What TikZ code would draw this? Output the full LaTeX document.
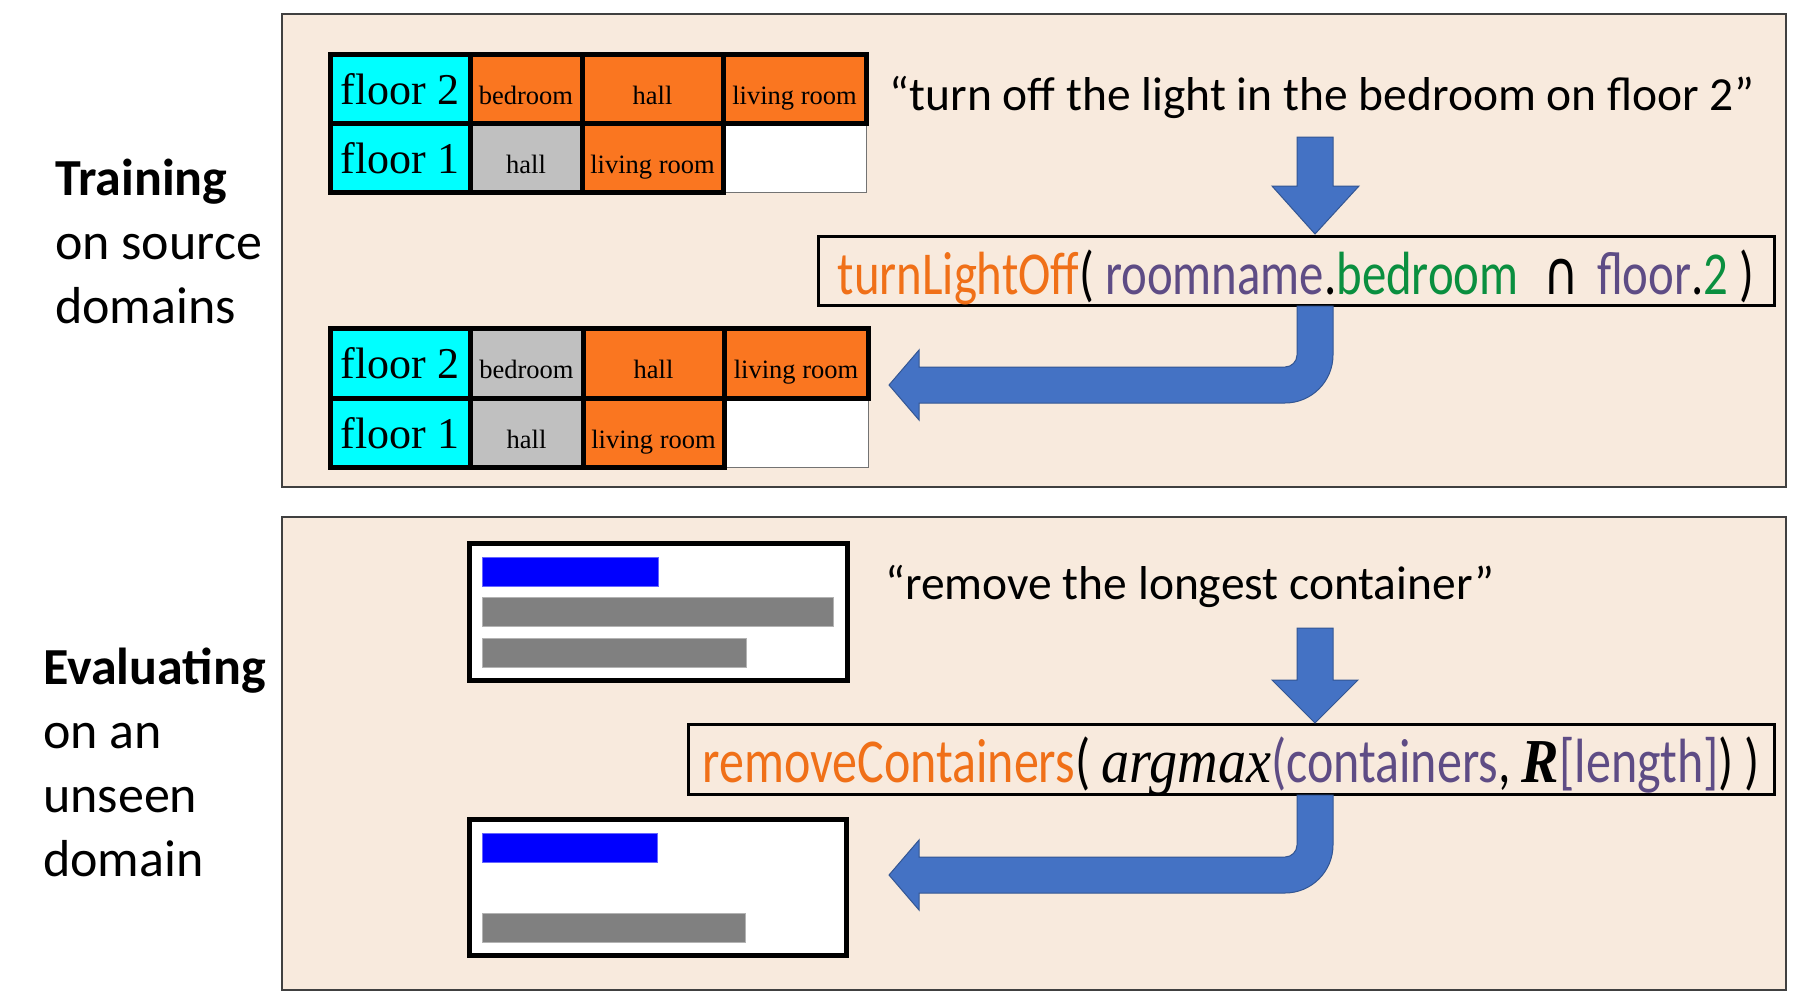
\documentclass[tikz,border=0pt]{standalone}
\usepackage{fontspec}
\setmainfont{Carlito}
\newfontfamily\tnr{Liberation Serif}
\newfontfamily\formfont[FakeStretch=0.8]{Carlito}
\newfontfamily\capfont[FakeStretch=0.8]{DejaVu Sans}
\newfontfamily\itfont[FakeStretch=0.9]{Liberation Serif}
\definecolor{bgc}{HTML}{F8EADD}
\definecolor{cyanc}{HTML}{00FFFF}
\definecolor{orc}{HTML}{FA7620}
\definecolor{grc}{HTML}{C0C0C0}
\definecolor{torange}{HTML}{F07018}
\definecolor{tpurple}{HTML}{5E4C85}
\definecolor{tgreen}{HTML}{0A8F3F}
\definecolor{arrblue}{HTML}{4472C4}
\definecolor{barblue}{HTML}{0000FF}
\definecolor{bargray}{HTML}{808080}
\begin{document}
\begin{tikzpicture}[x=1pt,y=-1pt,
  panel/.style={draw=black!75,line width=1.5pt,fill=bgc},
  cell/.style={draw=black,line width=5pt,inner sep=0pt,text height=31pt,text depth=0pt,
     font=\tnr\fontsize{26.5}{30}\selectfont},
  bigcell/.style={cell,fill=cyanc,font=\tnr\fontsize{44}{48}\selectfont},
  wcell/.style={draw=black!55,line width=1pt,fill=white,inner sep=0pt},
  cbox/.style={draw=black,line width=5pt,fill=white,inner sep=0pt},
  bluebar/.style={fill=barblue,draw=barblue!60!white,line width=1pt},
  graybar/.style={fill=bargray,draw=bargray!60!white,line width=1pt},
  fbox/.style={draw=black,line width=3pt,inner sep=0pt,text height=47pt,text depth=0pt,
     font=\formfont\fontsize{61}{66}\selectfont},
  quote/.style={inner sep=0pt,font=\fontsize{47.5}{56}\selectfont},
  side/.style={inner sep=0pt,anchor=base west,font=\fontsize{52}{60}\selectfont},
  blockarrow/.style={fill=arrblue,draw=arrblue!75!black,line width=1pt}
]
\useasboundingbox (0,0) rectangle (1800,1005);
% panels
\draw[panel] (282,14) rectangle (1786,487);
\draw[panel] (282,517) rectangle (1786,990);

% side labels
\node[side,font=\fontsize{52}{60}\selectfont\bfseries] (ltr) at (55,195) {Training};
\node[side] (lon) at (55,259) {on source};
\node[side] (ldo) at (55,323) {domains};
\node[side,font=\fontsize{52}{60}\selectfont\bfseries] (lev) at (43,684) {Evaluating};
\node[side] (lan) at (43,748) {on an};
\node[side] (lun) at (43,812) {unseen};
\node[side] (ldm) at (43,876) {domain};

% table 1
\node[wcell,minimum width=143pt,minimum height=69pt] (ta24) at (794.5,157.5) {};
\node[bigcell,minimum width=140pt,minimum height=69pt] (ta11) at (400,88.5) {floor 2};
\node[cell,fill=orc,minimum width=112pt,minimum height=69pt] (ta12) at (526,88.5) {bedroom};
\node[cell,fill=orc,minimum width=141pt,minimum height=69pt] (ta13) at (652.5,88.5) {hall};
\node[cell,fill=orc,minimum width=143pt,minimum height=69pt] (ta14) at (794.5,88.5) {living room};
\node[bigcell,minimum width=140pt,minimum height=69pt] (ta21) at (400,157.5) {floor 1};
\node[cell,fill=grc,minimum width=112pt,minimum height=69pt] (ta22) at (526,157.5) {hall};
\node[cell,fill=orc,minimum width=141pt,minimum height=69pt] (ta23) at (652.5,157.5) {living room};

% table 2
\node[wcell,minimum width=144pt,minimum height=69pt] (tb24) at (796,432.5) {};
\node[bigcell,minimum width=140pt,minimum height=70pt] (tb11) at (400,363) {floor 2};
\node[cell,fill=grc,minimum width=113pt,minimum height=70pt] (tb12) at (526.5,363) {bedroom};
\node[cell,fill=orc,minimum width=141pt,minimum height=70pt] (tb13) at (653.5,363) {hall};
\node[cell,fill=orc,minimum width=144pt,minimum height=70pt] (tb14) at (796,363) {living room};
\node[bigcell,minimum width=140pt,minimum height=69pt] (tb21) at (400,432.5) {floor 1};
\node[cell,fill=grc,minimum width=113pt,minimum height=69pt] (tb22) at (526.5,432.5) {hall};
\node[cell,fill=orc,minimum width=141pt,minimum height=69pt] (tb23) at (653.5,432.5) {living room};

% quotes
\node[quote,anchor=base] (q1) at (1322,110) {“turn off the light in the bedroom on floor 2”};
\node[quote,anchor=base] (q2) at (1190,599) {“remove the longest container”};

% formula boxes
\node[fbox,minimum width=956pt,minimum height=69pt] (f1) at (1296,270.5)
 {\textcolor{torange}{turnLightOff}( \textcolor{tpurple}{roomname}.\textcolor{tgreen}{bedroom}\hspace{0.4em}{\capfont ∩}\hspace{0.3em}\textcolor{tpurple}{floor}.\textcolor{tgreen}{2} )};
\node[fbox,minimum width=1086pt,minimum height=70pt,font=\formfont\fontsize{62.5}{66}\selectfont] (f2) at (1231,759)
 {\textcolor{torange}{removeContainers}( {\itfont\itshape argmax}\textcolor{tpurple}{(containers}, {\itfont\bfseries\itshape R}\textcolor{tpurple}{[length]})\,)};

% container boxes
\node[cbox,minimum width=378pt,minimum height=137pt] (c1) at (658.5,612) {};
\draw[bluebar] (482,557) rectangle (658,586);
\draw[graybar] (482,597) rectangle (833,626);
\draw[graybar] (482,638) rectangle (746,667);
\node[cbox,minimum width=377pt,minimum height=136pt] (c2) at (658,887.5) {};
\draw[bluebar] (482,833) rectangle (657,862);
\draw[graybar] (482,913) rectangle (745,942);

% down arrows
\draw[blockarrow] (1297,137) -- (1333,137) -- (1333,186) -- (1359,186) -- (1315,234) -- (1272,186) -- (1297,186) -- cycle;
\draw[blockarrow] (1297,628) -- (1333,628) -- (1333,680) -- (1358,680) -- (1315,723) -- (1272,680) -- (1297,680) -- cycle;

% bent arrows
\draw[blockarrow] (1297,306) -- (1297,355) .. controls (1297,361.6) and (1291.6,367) .. (1285,367)
  -- (919,367) -- (919,350) -- (889,385) -- (919,420) -- (919,403) -- (1285,403)
  .. controls (1311.5,403) and (1333,381.5) .. (1333,355) -- (1333,306) -- cycle;
\draw[blockarrow] (1297,795) -- (1297,845) .. controls (1297,851.6) and (1291.6,857) .. (1285,857)
  -- (919,857) -- (919,840) -- (889,875) -- (919,910) -- (919,893) -- (1285,893)
  .. controls (1311.5,893) and (1333,871.5) .. (1333,845) -- (1333,795) -- cycle;
\end{tikzpicture}
\end{document}
